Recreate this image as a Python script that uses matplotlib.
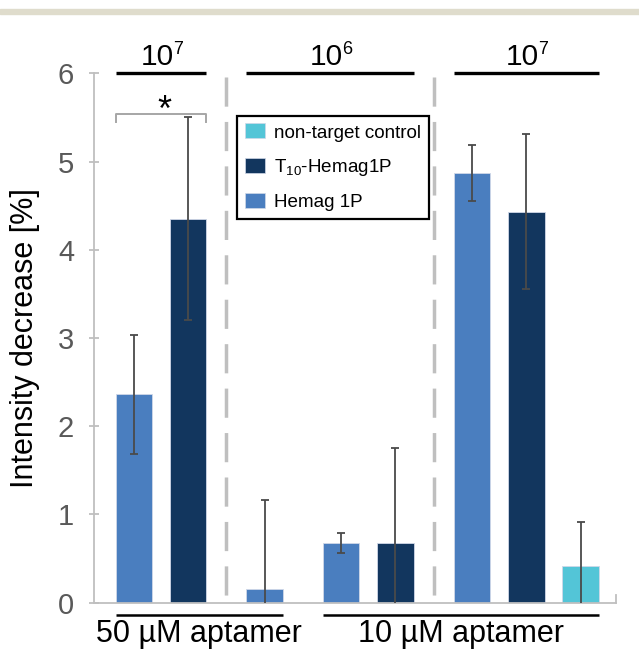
import matplotlib
matplotlib.use("Agg")
import matplotlib.pyplot as plt
from matplotlib.patches import Patch, Rectangle
import numpy as np

plt.rcParams['font.family'] = ['Liberation Sans', 'DejaVu Sans']
plt.rcParams['mathtext.fontset'] = 'custom'
plt.rcParams['mathtext.rm'] = 'Liberation Sans'
plt.rcParams['mathtext.it'] = 'Liberation Sans:italic'
plt.rcParams['lines.scale_dashes'] = False

# ---- data ----
group_sizes = [2, 1, 2, 3]
bar_series = ['Hemag 1P', 'T10-Hemag1P', 'Hemag 1P', 'Hemag 1P', 'T10-Hemag1P',
              'Hemag 1P', 'T10-Hemag1P', 'non-target control']
values = [2.36, 4.35, 0.16, 0.68, 0.68, 4.87, 4.43, 0.42]
errors = [0.67, 1.15, 1.00, 0.115, 1.07, 0.32, 0.88, 0.50]
top_base = ['10', '10', '10']
top_exp = ['7', '6', '7']
top_spans = [(0, 1), (2, 4), (5, 7)]
bottom_labels = ['50 µM aptamer', '10 µM aptamer']
bottom_spans = [(0, 2), (3, 7)]
yticks = [0, 1, 2, 3, 4, 5, 6]
legend_order = ['non-target control', 'T10-Hemag1P', 'Hemag 1P']
legend_text = {'non-target control': 'non-target control',
               'T10-Hemag1P': r'$\mathregular{T_{10}}$-Hemag1P',
               'Hemag 1P': 'Hemag 1P'}
colors = {'Hemag 1P': '#4A7EBF', 'T10-Hemag1P': '#12365E', 'non-target control': '#53C5D7'}

# ---- layout ----
step = 1.0
gap = 0.41
width = 0.67
pos = []
x = 0.0
for gi, n in enumerate(group_sizes):
    for k in range(n):
        pos.append(x)
        x += step
    x += gap
pos = np.array(pos)

fig = plt.figure(figsize=(6.39, 6.5), dpi=100)
W, H = 639, 650
ax = fig.add_axes([94.3 / W, 1 - 602.7 / H, (616 - 94.3) / W, (602.7 - 73.3) / H])

# page strip on top
fig.patches.append(Rectangle((0, 1 - 13.5 / H), 1, 4.5 / H, transform=fig.transFigure,
                             color='#DFDCCC', zorder=0))

cols = [colors[s] for s in bar_series]
ax.bar(pos, values, width=width, color=cols, edgecolor='#D0D8E8', linewidth=0.6, zorder=2)
ax.errorbar(pos, values, yerr=errors, fmt='none', ecolor='#4A4A4A', elinewidth=1.3,
            capsize=3, capthick=1.3, zorder=3)

ax.set_xlim(pos[0] - 0.726, pos[0] - 0.726 + 521.7 / 54.3)
ax.set_ylim(0, 6)
ax.set_yticks(yticks)
ax.set_xticks([])
for s in ['top', 'right']:
    ax.spines[s].set_visible(False)
for s in ['left', 'bottom']:
    ax.spines[s].set_color('#BFBFBF')
    ax.spines[s].set_linewidth(1.3)
ax.tick_params(axis='y', direction='inout', length=7, width=1.3, color='#BFBFBF',
               labelsize=21, labelcolor='#595959', pad=11)
ax.set_ylabel('Intensity decrease [%]', fontsize=22, labelpad=13)

# right end tick
xr = ax.get_xlim()[1]
ax.plot([xr, xr], [0, 0.09], color='#BFBFBF', lw=1.3, clip_on=False)

# dashed separators
gstart = np.cumsum([0] + group_sizes[:-1])
for gi in [1, 3]:
    xm = (pos[gstart[gi] - 1] + pos[gstart[gi]]) / 2
    ax.plot([xm, xm], [5.96, 0], color='#BFBFBF', lw=2.5, dashes=(21, 11), clip_on=False, zorder=1)

# top concentration lines and labels
px = 0.72  # points per pixel
for base, ex, (a, b) in zip(top_base, top_exp, top_spans):
    x0 = pos[a] - width / 2
    x1 = pos[b] + width / 2
    xc = (x0 + x1) / 2
    ax.plot([x0, x1], [6, 6], color='black', lw=2.4, clip_on=False, solid_capstyle='butt')
    ax.annotate(base, xy=(xc, 6), xytext=(13 * px, 8.4 * px), textcoords='offset points',
                ha='right', va='baseline', fontsize=21.5, annotation_clip=False)
    ax.annotate(ex, xy=(xc, 6), xytext=(12 * px, 19 * px), textcoords='offset points',
                ha='left', va='baseline', fontsize=13, annotation_clip=False)

# bottom aptamer lines and labels
for lab, (a, b) in zip(bottom_labels, bottom_spans):
    x0 = pos[a] - width / 2
    x1 = pos[b] + width / 2
    ax.plot([x0, x1], [-0.14, -0.14], color='black', lw=1.8, clip_on=False, solid_capstyle='butt')
    ax.annotate(lab, xy=((x0 + x1) / 2, -0.14), xytext=(0, -3), textcoords='offset points',
                ha='center', va='top', fontsize=22, annotation_clip=False)

# significance bracket
bx0 = pos[0] - width / 2
bx1 = pos[1] + width / 2
ax.plot([bx0, bx0, bx1, bx1], [5.45, 5.54, 5.54, 5.45], color='#A6A6A6', lw=1.4, clip_on=False)
ax.text((bx0 + bx1) / 2 + 0.06, 5.46, '*', ha='center', va='baseline', fontsize=26)

# legend
handles = [Patch(facecolor=colors[s], edgecolor='#D0D8E8', linewidth=0.5) for s in legend_order]
labels = [legend_text[s] for s in legend_order]
leg = fig.legend(handles, labels, loc='upper left', bbox_to_anchor=(237.3 / W, 1 - 115.5 / H),
                 fontsize=13.6, frameon=True, fancybox=False, edgecolor='black', framealpha=1,
                 handlelength=1.06, handleheight=0.85, handletextpad=0.45, labelspacing=0.8,
                 borderpad=0.42, borderaxespad=0)
leg.get_frame().set_linewidth(1.6)

fig.savefig('out.png', dpi=100)
